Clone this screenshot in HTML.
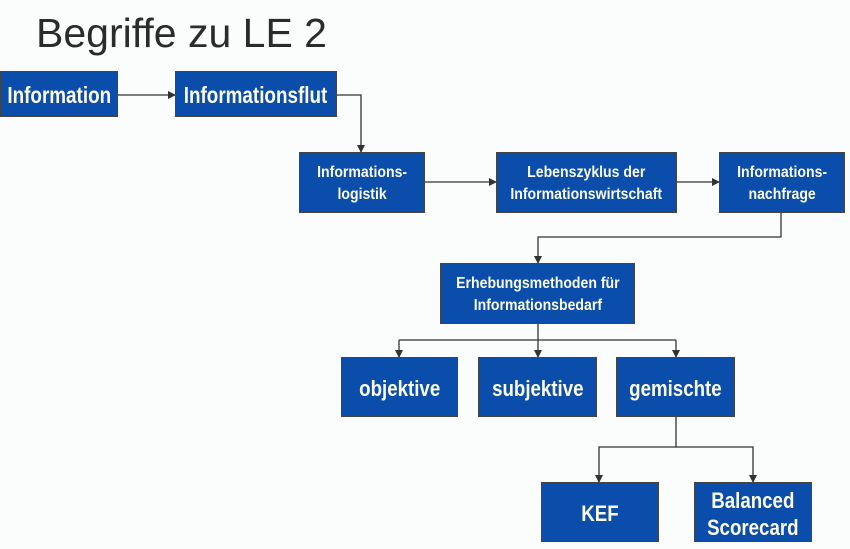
<!DOCTYPE html>
<html><head><meta charset="utf-8"><style>
body{margin:0;width:850px;height:549px;background:#fbfcfc;position:relative;overflow:hidden;font-family:"Liberation Sans",Arial,sans-serif}
.t{position:absolute;left:36px;top:10px;font-size:41px;color:#2b2b2b}
.b{position:absolute;box-sizing:border-box;background:#0a4dab;border:1px solid #444;color:#fbfbe8;font-weight:bold;display:flex;align-items:center;justify-content:center;text-align:center;padding-top:3px}
.b span{display:inline-block;white-space:nowrap}
.s{font-size:16px;line-height:22px}
.s span{transform:scaleX(0.88)}
.m{font-size:22px;line-height:27px}
.m span{transform:scaleX(0.85)}
.l{font-size:23px}
.l span{transform:scaleX(0.82)}
svg{position:absolute;left:0;top:0}
</style></head><body>
<div class="t">Begriffe zu LE 2</div>
<svg width="850" height="549">
<defs><marker id="a" markerWidth="8" markerHeight="8" refX="7" refY="4" orient="auto" markerUnits="userSpaceOnUse"><path d="M0,0 L8,4 L0,8z" fill="#333"/></marker></defs>
<g stroke="#333" stroke-width="1.3" fill="none">
<path d="M117,95 H175" marker-end="url(#a)"/>
<path d="M336,95 H361 V152" marker-end="url(#a)"/>
<path d="M424,182 H496" marker-end="url(#a)"/>
<path d="M676,182 H719" marker-end="url(#a)"/>
<path d="M781,212 V237 H538 V263" marker-end="url(#a)"/>
<path d="M538,323 V357" marker-end="url(#a)"/>
<path d="M399,340 H676"/>
<path d="M399,340 V357" marker-end="url(#a)"/>
<path d="M676,340 V357" marker-end="url(#a)"/>
<path d="M676,416 V447 H599 V482" marker-end="url(#a)"/>
<path d="M676,447 H753 V482" marker-end="url(#a)"/>
</g></svg>
<div class="b l" style="left:0;top:71px;width:118px;height:46px"><span>Information</span></div>
<div class="b l" style="left:175px;top:71px;width:162px;height:46px"><span>Informationsflut</span></div>
<div class="b s" style="left:299px;top:152px;width:126px;height:61px"><span>Informations-<br>logistik</span></div>
<div class="b s" style="left:496px;top:152px;width:181px;height:61px"><span>Lebenszyklus der<br>Informationswirtschaft</span></div>
<div class="b s" style="left:719px;top:152px;width:126px;height:61px"><span>Informations-<br>nachfrage</span></div>
<div class="b s" style="left:440px;top:263px;width:195px;height:61px"><span>Erhebungsmethoden für<br>Informationsbedarf</span></div>
<div class="b m" style="left:341px;top:357px;width:117px;height:60px"><span>objektive</span></div>
<div class="b m" style="left:478px;top:357px;width:119px;height:60px"><span>subjektive</span></div>
<div class="b m" style="left:616px;top:357px;width:119px;height:60px"><span>gemischte</span></div>
<div class="b m" style="left:541px;top:482px;width:118px;height:60px"><span>KEF</span></div>
<div class="b m" style="left:694px;top:482px;width:118px;height:60px"><span>Balanced<br>Scorecard</span></div>
</body></html>
